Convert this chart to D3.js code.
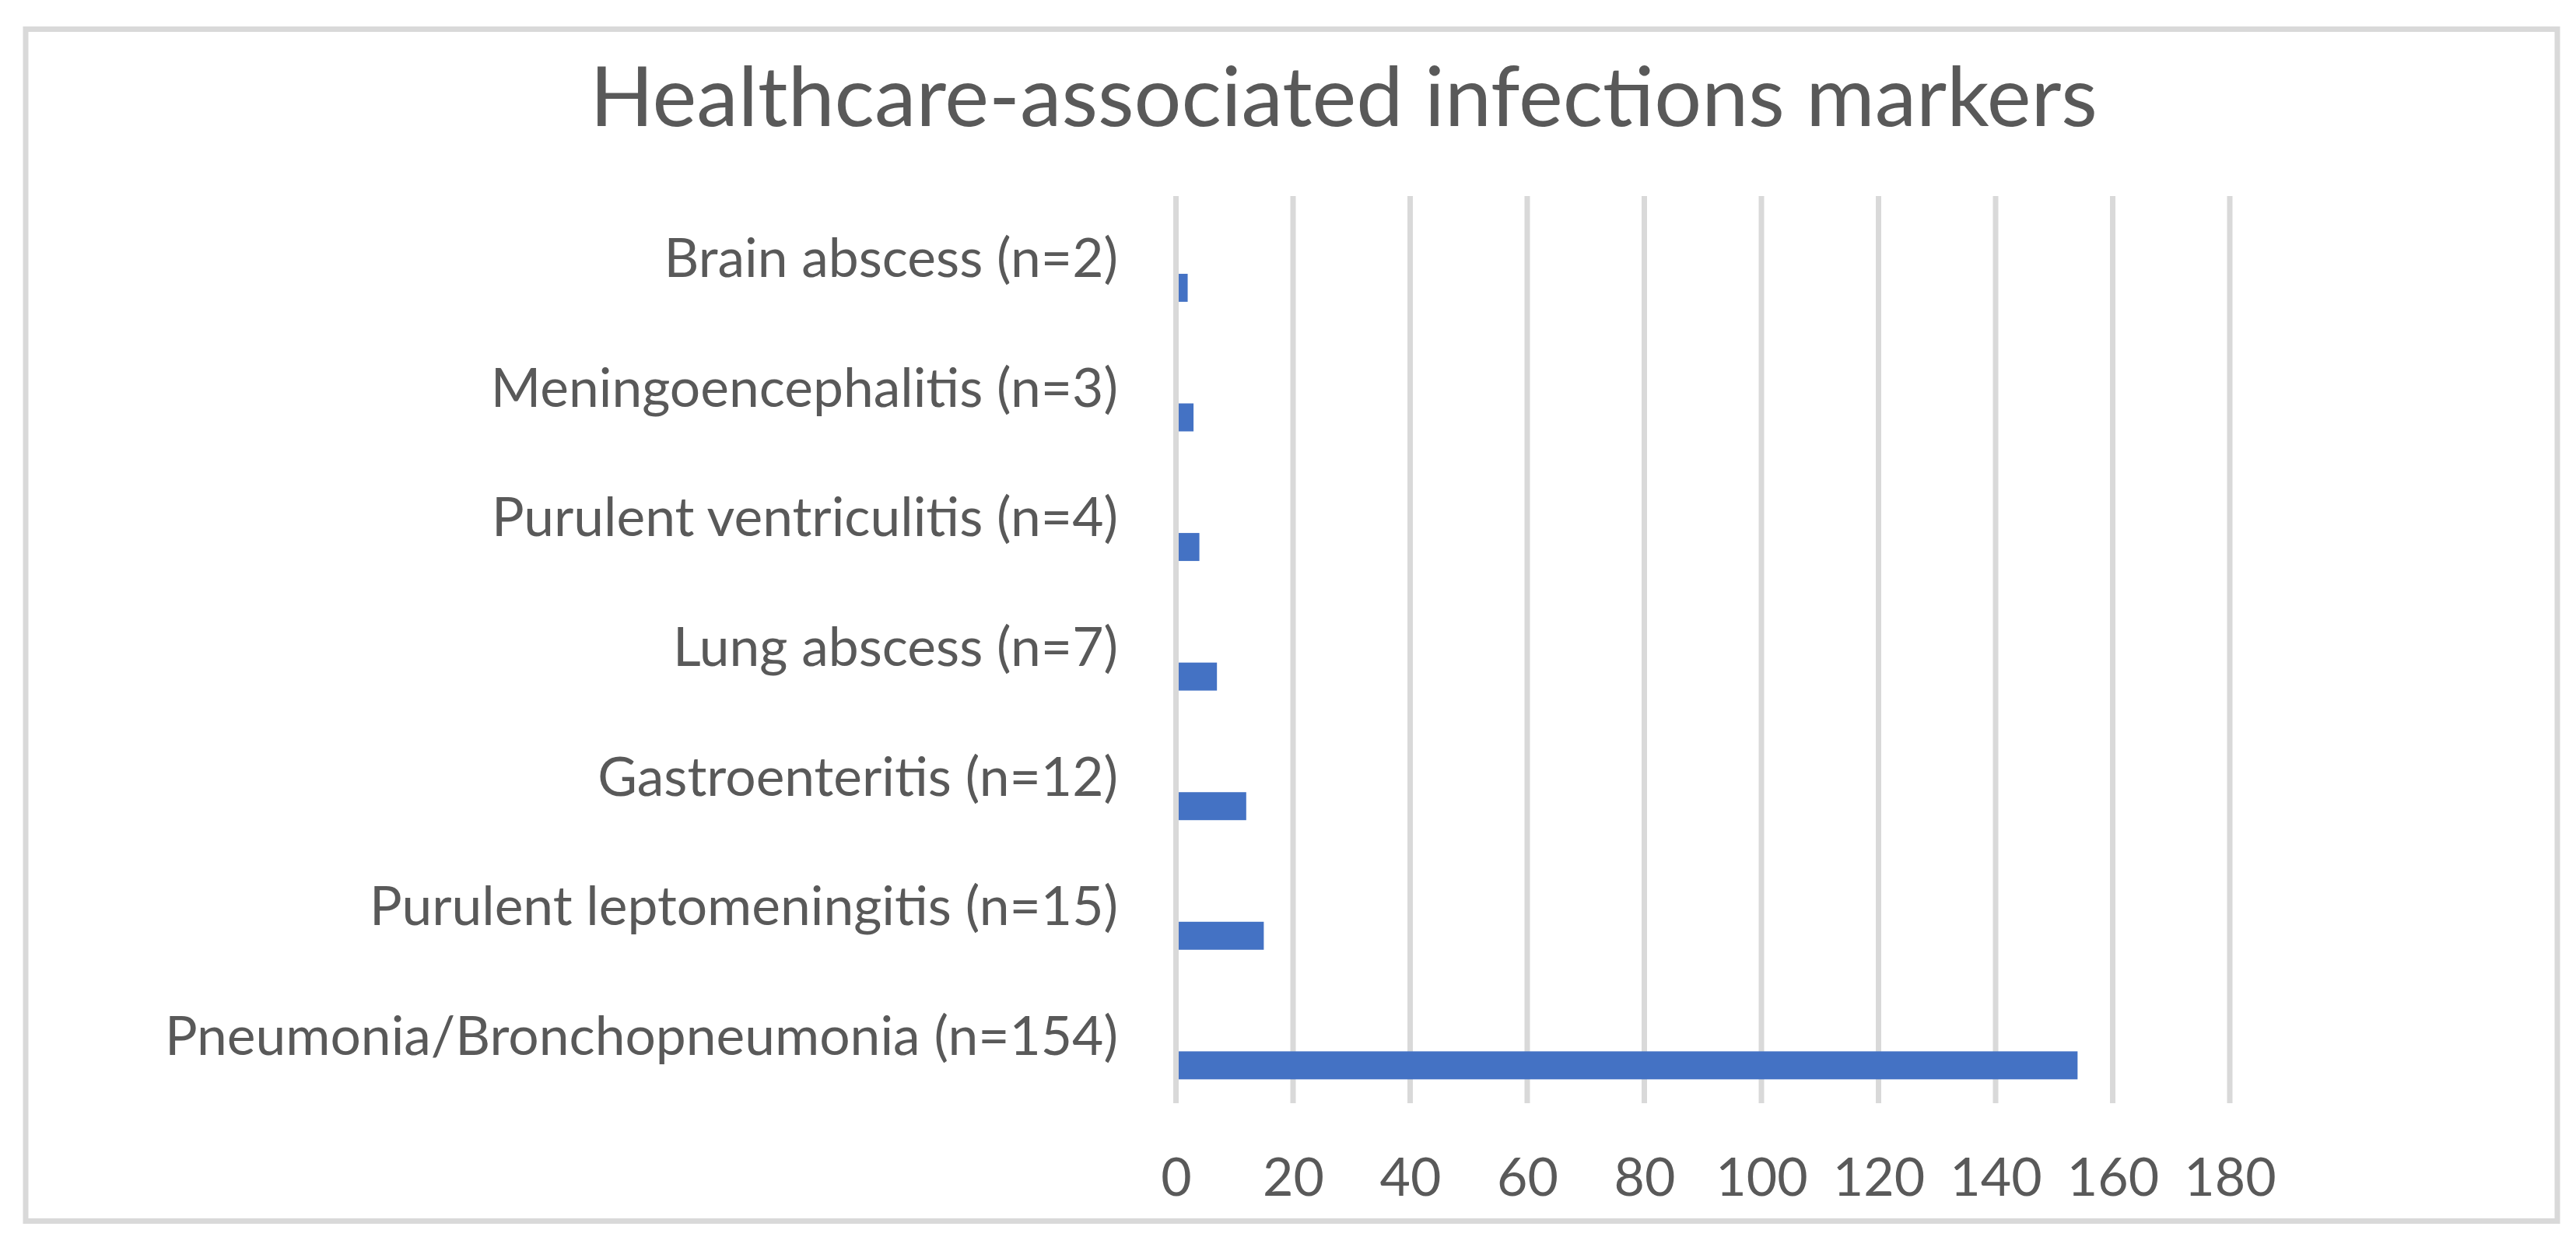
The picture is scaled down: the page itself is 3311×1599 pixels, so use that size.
<!DOCTYPE html>
<meta charset="utf-8">
<script src="https://d3js.org/d3.v7.min.js"></script>
<style>
body { margin: 0; background: #fff; }
text { font-family: Lato, "Open Sans", sans-serif; fill: #595959; }
.grid line { stroke: #d9d9d9; stroke-width: 7px; }
.axis path, .axis line { display: none; }
</style>
<body>
</body>
<script>

// categories top to bottom, with their counts
var categories = [
  "Brain abscess (n=2)",
  "Meningoencephalitis (n=3)",
  "Purulent ventriculitis (n=4)",
  "Lung abscess (n=7)",
  "Gastroenteritis (n=12)",
  "Purulent leptomeningitis (n=15)",
  "Pneumonia/Bronchopneumonia (n=154)"
];
var counts = [2, 3, 4, 7, 12, 15, 154];
var xTicks = [0, 20, 40, 60, 80, 100, 120, 140, 160, 180];
var title = "Healthcare-associated infections markers";

var W = 3311, H = 1599;

var svg = d3.select("body").append("svg")
    .attr("width", W)
    .attr("height", H);

// chart border
svg.append("rect")
    .attr("x", 33).attr("y", 37.5)
    .attr("width", 3287 - 33).attr("height", 1569.5 - 37.5)
    .attr("fill", "none")
    .attr("stroke", "#d9d9d9")
    .attr("stroke-width", 7);

svg.append("text")
    .attr("x", 1727).attr("y", 162)
    .attr("text-anchor", "middle")
    .style("font-size", "107.5px")
    .text(title);

var plotTop = 252, plotBottom = 1418;

var x = d3.scaleLinear()
  .domain([0, 180])
  .range([1511.5, 2866]);

var y = d3.scaleBand()
  .domain(categories)
  .range([plotTop, plotBottom]);

// vertical gridlines
svg.append("g")
    .attr("class", "grid")
  .selectAll("line")
  .data(xTicks).enter().append("line")
    .attr("x1", function(d) { return x(d); })
    .attr("x2", function(d) { return x(d); })
    .attr("y1", plotTop)
    .attr("y2", plotBottom);

// bars sit in the lower half of each band (empty second series in the original)
var data = categories.map(function(c, i) { return {cat: c, value: counts[i]}; });

svg.selectAll(".bar")
  .data(data).enter().append("rect")
    .attr("class", "bar")
    .attr("x", x(0) + 3.5)
    .attr("y", function(d) { return y(d.cat) + y.bandwidth() * 0.6; })
    .attr("width", function(d) { return x(d.value) - x(0) - 3.5; })
    .attr("height", y.bandwidth() * 0.216)
    .attr("fill", "#4472c4");

// category labels
svg.selectAll(".cat")
  .data(categories).enter().append("text")
    .attr("class", "cat")
    .attr("x", 1437)
    .attr("y", function(d) { return y(d) + y.bandwidth() / 2 + 21; })
    .attr("text-anchor", "end")
    .style("font-size", "69.5px")
    .text(function(d) { return d; });

// x axis labels
var xAxis = d3.axisBottom(x)
  .tickValues(xTicks)
  .tickSize(0)
  .tickPadding(0);

var gx = svg.append("g")
    .attr("class", "axis")
    .call(xAxis);

gx.selectAll("text")
    .attr("y", 1537)
    .attr("dy", null)
    .style("font-size", "68px")
    .style("font-family", null)
    .attr("fill", null);

</script>
